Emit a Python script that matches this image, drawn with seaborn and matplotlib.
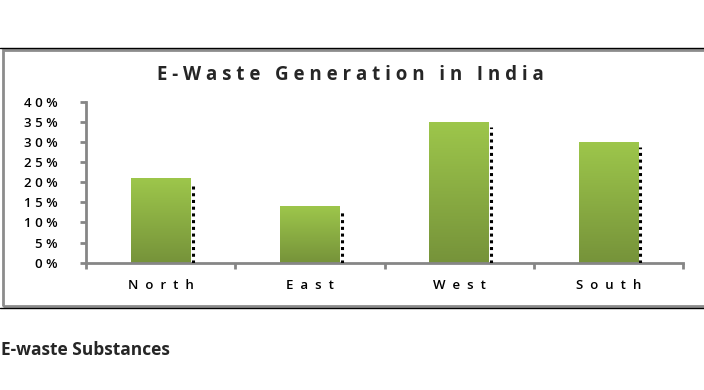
import numpy as np
import pandas as pd
import matplotlib
matplotlib.use('Agg')
import matplotlib.pyplot as plt
import seaborn as sns
from matplotlib.patches import Rectangle
from matplotlib.lines import Line2D
from matplotlib.colors import LinearSegmentedColormap
from matplotlib.ticker import FuncFormatter, FixedLocator

# data
regions = ['North', 'East', 'West', 'South']
share = [0.21, 0.14, 0.35, 0.30]
yticks = [0.0, 0.05, 0.10, 0.15, 0.20, 0.25, 0.30, 0.35, 0.40]

df = pd.DataFrame({'Region': regions, 'Share': share})

sns.set_style('white')
plt.rcParams['font.family'] = ['Open Sans', 'DejaVu Sans']

fig = plt.figure(figsize=(7.04, 3.9), dpi=100)
ax = fig.add_axes([0.1222, 0.3264, 0.848, 0.4128])

sns.barplot(data=df, x='Region', y='Share', width=0.4, color='#8AAE45', ax=ax)

# gradient fill on each bar + dotted shadow on the right
green = LinearSegmentedColormap.from_list('g', ['#76933A', '#9DC64B'])
grad = np.linspace(0, 1, 100).reshape(-1, 1)
for p in ax.patches:
    x0, w, h = p.get_x(), p.get_width(), p.get_height()
    p.set_edgecolor('none')
    im = ax.imshow(grad, cmap=green, origin='lower', aspect='auto',
                   extent=[x0, x0 + w, 0, h], zorder=p.get_zorder() + 0.1)
    im.set_clip_path(p)
    ax.vlines(x0 + w + 0.015, 0, h - 0.012, colors='black',
              linestyles=(0, (1, 1.2)), linewidth=2.2, zorder=3)

ax.set_xlim(-0.5, 3.5)
ax.set_ylim(0, 0.40)
ax.set_xlabel('')
ax.set_ylabel('')
ax.set_yticks(yticks)
ax.yaxis.set_major_formatter(FuncFormatter(lambda v, pos: ' '.join(f'{int(round(v * 100))}%')))
ax.set_xticks(range(len(regions)))
ax.set_xticklabels(['  '.join(r) for r in regions])
ax.xaxis.set_minor_locator(FixedLocator(np.arange(-0.5, len(regions), 1.0)))

for s in ['top', 'right']:
    ax.spines[s].set_visible(False)
for s in ['left', 'bottom']:
    ax.spines[s].set_color('#868686')
    ax.spines[s].set_linewidth(2)

ax.tick_params(axis='y', which='major', left=True, length=4.5, width=2, color='#868686',
               labelsize=9.5, pad=16, labelcolor='black')
ax.tick_params(axis='x', which='major', length=0, labelsize=9.5, pad=12, labelcolor='black')
ax.tick_params(axis='x', which='minor', bottom=True, length=4.5, width=2, color='#868686')
for lab in ax.get_yticklabels() + ax.get_xticklabels():
    lab.set_fontweight(600)
ax.patch.set_alpha(0)

# chart frame
fig.add_artist(Rectangle((2.5 / 704, 84 / 390), 1.0, 256 / 390, transform=fig.transFigure,
                         fill=False, edgecolor='#8C8C8C', linewidth=2))
fig.add_artist(Line2D([0, 1], [342 / 390, 342 / 390], transform=fig.transFigure,
                      color='black', linewidth=1))
fig.add_artist(Line2D([0, 1], [82.5 / 390, 82.5 / 390], transform=fig.transFigure,
                      color='black', linewidth=1))

fig.text(0.497, (390 - 80) / 390, 'E - W a s t e   G e n e r a t i o n   i n   I n d i a',
         ha='center', va='baseline', fontsize=13.5, fontweight='bold')

fig.text(1 / 704, (390 - 355) / 390, 'E-waste Substances', ha='left', va='baseline',
         fontsize=12.5, fontweight='bold')

fig.savefig('out.png', dpi=100)
